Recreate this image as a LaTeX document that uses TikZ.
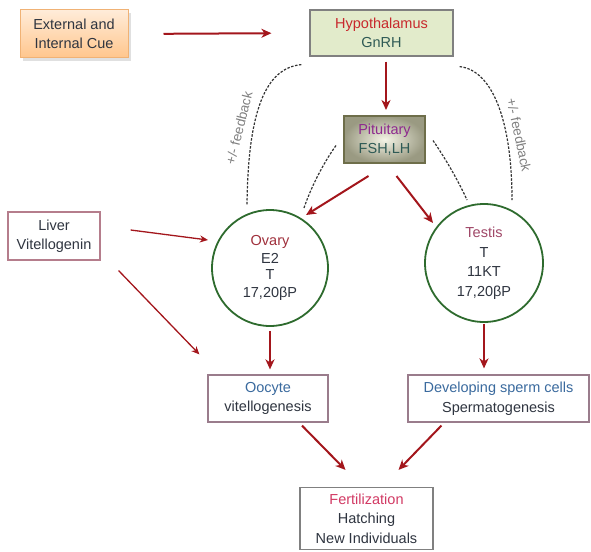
\documentclass[tikz,border=0pt]{standalone}
\usepackage{fontspec}
\setmainfont{Liberation Sans}
\usetikzlibrary{calc,arrows.meta}
\definecolor{arrred}{HTML}{A3161C}
\definecolor{hypofill}{HTML}{E2EBCB}
\definecolor{pitborder}{HTML}{6E6E4A}
\definecolor{pitouter}{HTML}{9A9A82}
\definecolor{pitinner}{HTML}{F4F4E6}
\definecolor{darktext}{HTML}{2F3540}
\definecolor{tealtext}{HTML}{2E5A55}
\definecolor{ringgreen}{HTML}{2E6B2E}
\definecolor{liverborder}{HTML}{B57D8C}
\definecolor{cellborder}{HTML}{9A7C8C}
\definecolor{titlered}{HTML}{C8282C}
\definecolor{titlepurple}{HTML}{8E2A8E}
\definecolor{titlebrown}{HTML}{A0303C}
\definecolor{titlemauve}{HTML}{A04868}
\definecolor{titleblue}{HTML}{3A6A9E}
\definecolor{titlepink}{HTML}{D23A64}
\begin{document}
\begin{tikzpicture}[x=1pt,y=-1pt,
  every node/.style={font=\fontsize{14.5}{19.5}\selectfont, align=center, inner sep=0pt, text=darktext},
  box/.style={draw, rectangle, line width=1.2pt},
  arr/.style={draw=arrred, line width=2pt, -{Stealth[length=10pt,width=9pt,inset=3pt]}},
  thinarr/.style={draw=arrred, line width=1.3pt, -{Stealth[length=8pt,width=7pt,inset=2.5pt]}},
  fb/.style={draw=black!80, line width=1.2pt, dash pattern=on 2.5pt off 1.5pt},
  fblabel/.style={text=gray, font=\fontsize{13.5}{15}\selectfont}
]
\useasboundingbox (0,0) rectangle (591,551);

% shadow of external box
\fill[black, opacity=0.12] (23,13) rectangle (131,61);
\node[box, draw=orange!60!brown!60, line width=1pt, top color=orange!15, bottom color=orange!45,
  minimum width=108pt, minimum height=48pt] (ext) at (74,34) {External and\\Internal Cue};

\node[box, draw=gray, fill=hypofill, minimum width=143pt, minimum height=46pt] (hypo) at (381.5,33)
  {\textcolor{titlered}{Hypothalamus}\\\textcolor{tealtext}{GnRH}};

\node[box, draw=pitborder, line width=2pt, inner color=pitinner, outer color=pitouter,
  minimum width=81pt, minimum height=47pt] (pit) at (384.5,139.5)
  {\textcolor{titlepurple}{Pituitary}\\\textcolor{tealtext}{FSH,LH}};

\node[draw=ringgreen, circle, line width=1.8pt, minimum size=116pt, fill=white] (ovary) at (270,268)
  {\textcolor{titlebrown}{Ovary}\\[-2pt]E2\\[-3pt]T\\[-2pt]17,20βP};

\node[draw=ringgreen, circle, line width=1.8pt, minimum size=118pt, fill=white] (testis) at (484,263)
  {\textcolor{titlemauve}{Testis}\\T\\11KT\\17,20βP};

\node[box, draw=liverborder, fill=white, minimum width=92pt, minimum height=48pt] (liver) at (54,236)
  {Liver\\Vitellogenin};

\node[box, draw=cellborder, fill=white, minimum width=120pt, minimum height=47pt] (oocyte) at (268,398.5)
  {\textcolor{titleblue}{Oocyte}\\vitellogenesis};

\node[box, draw=cellborder, fill=white, minimum width=181pt, minimum height=47pt] (dev) at (498.5,398.5)
  {\textcolor{titleblue}{Developing\ sperm\ cells}\\Spermatogenesis};

\node[box, draw=gray, fill=white, minimum width=133pt, minimum height=62pt] (fert) at (366.5,518.5)
  {\textcolor{titlepink}{Fertilization}\\Hatching\\New Individuals};

% main arrows
\draw[arr, shorten <=35pt, shorten >=38pt] (ext.east) -- (hypo.west);
\draw[arr] ($(hypo.south)+(4.5,5)$) -- ($(pit.north)+(1.5,-5)$);
\draw[arr] ($(pit.south)+(-16,12)$) -- ($(ovary)+(36,-53)$);
\draw[arr] ($(pit.south)+(12,12)$) -- ($(testis)+(-51,-40)$);
\draw[thinarr] ($(liver.east)+(30,-6)$) -- ($(ovary)+(-62,-28)$);
\draw[thinarr] ($(liver.south east)+(18,10)$) -- ($(oocyte.north west)+(-8,-20)$);
\draw[arr] ($(ovary.south)+(0,4)$) -- ($(ovary.south |- oocyte.north)+(0,-5)$);
\draw[arr] ($(testis.south)+(0,1)$) -- ($(testis.south |- dev.north)+(0,-6)$);
\draw[arr] ($(oocyte.south)+(34,3)$) -- ($(fert.north)+(-21,-17)$);
\draw[arr] ($(dev.south west)+(34,3)$) -- ($(fert.north)+(32,-17)$);

% feedback curves
\draw[fb] ($(hypo.south west)+(-8,8)$) .. controls (265,68) and (248,112) .. ($(ovary)+(-23,-63)$);
\draw[fb] ($(hypo.south east)+(6,10)$) .. controls (492,70) and (512,120) .. ($(testis)+(28,-63)$);
\draw[fb] ($(pit.west)+(-7,6)$) .. controls (322,165) and (310,190) .. ($(ovary)+(34,-60)$);
\draw[fb] ($(pit.east)+(7,1)$) .. controls (445,158) and (458,180) .. ($(testis)+(-17,-63)$);

\node[fblabel, rotate=76] (fbl) at (239,128) {+/- feedback};
\node[fblabel, rotate=-78] (fbr) at (519,135) {+/- feedback};
\end{tikzpicture}
\end{document}
